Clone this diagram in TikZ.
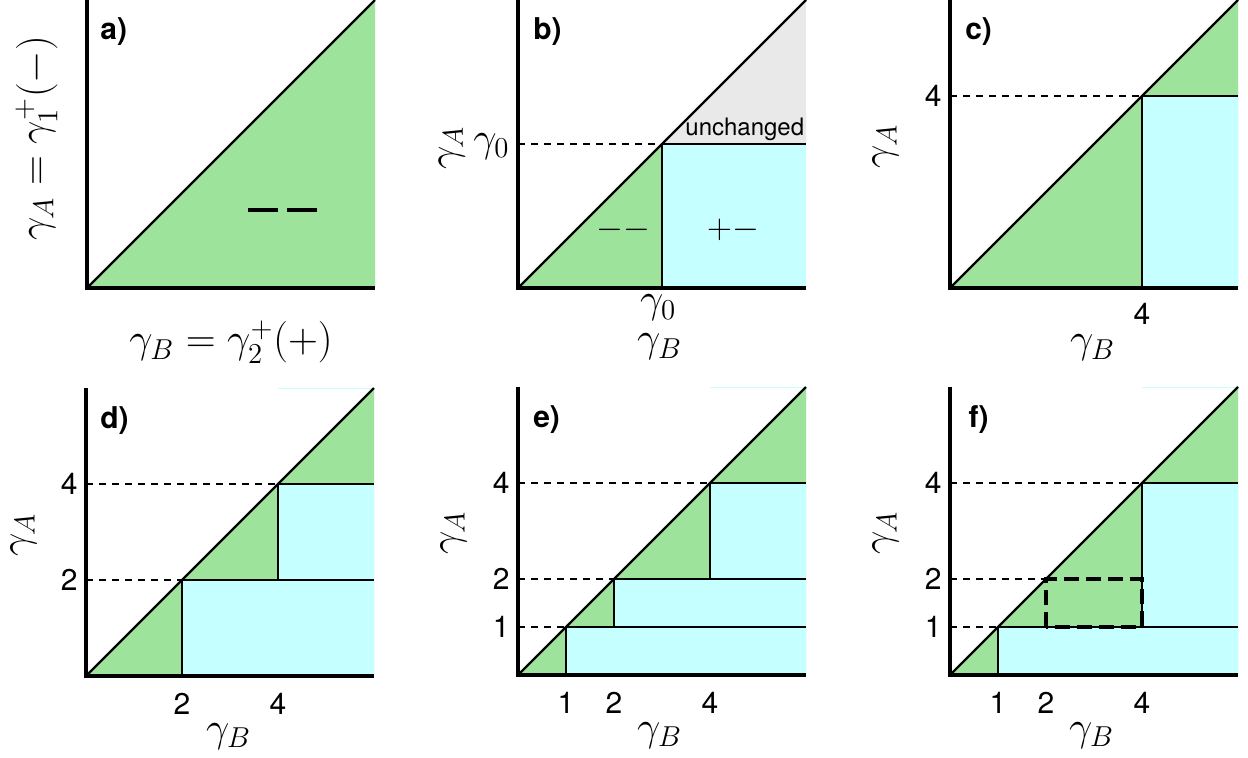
\documentclass[tikz,border=0pt]{standalone}
\usepackage{fontspec}
\newfontfamily\hv{TeX Gyre Heros}
\definecolor{gfill}{RGB}{157,227,155}
\definecolor{cfill}{RGB}{198,255,255}
\definecolor{grfill}{RGB}{233,233,233}
\tikzset{
  axisline/.style={line width=2.2pt},
  diagline/.style={line width=1.1pt},
  thinline/.style={line width=0.6pt},
  guide/.style={line width=0.8pt, dash pattern=on 3.5pt off 3pt},
  boxdash/.style={line width=2pt, dash pattern=on 7.5pt off 3.5pt},
  faint/.style={line width=0.5pt, draw=cfill},
  mathlab/.style={font=\fontsize{21}{25}\selectfont, inner sep=0},
  signlab/.style={font=\fontsize{17}{20}\selectfont, inner sep=0},
  ticklab/.style={font=\hv\fontsize{15}{18}\selectfont, inner sep=0},
  smalllab/.style={font=\hv\fontsize{12}{14}\selectfont, inner sep=0},
  panellab/.style={font=\hv\bfseries\fontsize{15}{18}\selectfont, inner sep=0, anchor=west},
  ytick/.style={ticklab, anchor=east},
  xtick/.style={ticklab, anchor=north},
  ylab/.style={mathlab, rotate=90, anchor=base},
  xlab/.style={mathlab, anchor=base},
}
\begin{document}
\begin{tikzpicture}[x=0.5pt, y=-0.5pt]
\useasboundingbox (0,0) rectangle (1248,757);

% ---------- panel a ----------
\begin{scope}[shift={(87,288)}, x=24pt, y=24pt]
  \fill[gfill] (0,0) -- (6,0) -- (6,6) -- cycle;
  \draw[diagline] (0,0) -- (6,6);
  \draw[axisline] (0,6) -- (0,0) -- (6,0);
  \draw[line width=2pt] (3.35,1.625) -- (3.98,1.625);
  \draw[line width=2pt] (4.17,1.625) -- (4.79,1.625);
  \node[panellab] (pa) at (0.27,5.35) {a)};
  \node[ylab] (ya) at (-0.83,3.12) {$\gamma_A=\gamma_1^+(-)$};
  \node[xlab] (xa) at (3,-1.35) {$\gamma_B=\gamma_2^+(+)$};
\end{scope}

% ---------- panel b ----------
\begin{scope}[shift={(518,288)}, x=24pt, y=24pt]
  \fill[gfill] (0,0) -- (3,0) -- (3,3) -- cycle;
  \fill[cfill] (3,0) rectangle (6,3);
  \fill[grfill] (3,3) -- (6,3) -- (6,6) -- cycle;
  \draw[thinline] (3,0) -- (3,3) -- (6,3);
  \draw[guide] (0,3) -- (3,3);
  \draw[diagline] (0,0) -- (6,6);
  \draw[axisline] (0,6) -- (0,0) -- (6,0);
  \node[panellab] (pb) at (0.31,5.35) {b)};
  \node[smalllab, anchor=base east] (unch) at (5.97,3.17) {unchanged};
  \node[signlab] (mm) at (2.19,1.21) {$--$};
  \node[signlab] (pm) at (4.48,1.21) {$+-$};
  \node[mathlab, anchor=base east] (g0y) at (-0.17,2.85) {$\gamma_0$};
  \node[mathlab, anchor=base] (g0x) at (2.92,-0.52) {$\gamma_0$};
  \node[ylab] (yb) at (-1.28,2.92) {$\gamma_A$};
  \node[xlab] (xb) at (2.95,-1.33) {$\gamma_B$};
\end{scope}

% ---------- panel c ----------
\begin{scope}[shift={(950,288)}, x=24pt, y=24pt]
  \fill[gfill] (0,0) -- (6,0) -- (6,6) -- cycle;
  \fill[cfill] (4,0) rectangle (6,4);
  \draw[thinline] (4,0) -- (4,4) -- (6,4);
  \draw[guide] (0,4) -- (4,4);
  \draw[diagline] (0,0) -- (6,6);
  \draw[axisline] (0,6) -- (0,0) -- (6,0);
  \node[panellab] (pc) at (0.31,5.35) {c)};
  \node[ytick] (cy4) at (-0.17,4) {4};
  \node[xtick] (cx4) at (4,-0.3) {4};
  \node[ylab] (yc) at (-1.24,2.95) {$\gamma_A$};
  \node[xlab] (xc) at (2.97,-1.35) {$\gamma_B$};
\end{scope}

% ---------- panel d ----------
\begin{scope}[shift={(86,676)}, x=24pt, y=24pt]
  \fill[gfill] (0,0) -- (6,0) -- (6,6) -- cycle;
  \fill[cfill] (4,2) rectangle (6,4);
  \fill[cfill] (2,0) rectangle (6,2);
  \draw[faint] (4,6) -- (6,6);
  \draw[thinline] (4,2) -- (4,4) -- (6,4);
  \draw[thinline] (2,0) -- (2,2) -- (6,2);
  \draw[guide] (0,4) -- (4,4);
  \draw[guide] (0,2) -- (2,2);
  \draw[diagline] (0,0) -- (6,6);
  \draw[axisline] (0,6) -- (0,0) -- (6,0);
  \node[panellab] (pd) at (0.29,5.33) {d)};
  \node[ytick] (dy4) at (-0.17,4) {4};
  \node[ytick] (dy2) at (-0.17,2) {2};
  \node[xtick] (dx2) at (2,-0.35) {2};
  \node[xtick] (dx4) at (4,-0.35) {4};
  \node[ylab] (yd) at (-1.2,2.94) {$\gamma_A$};
  \node[xlab] (xd) at (2.97,-1.37) {$\gamma_B$};
\end{scope}

% ---------- panel e ----------
\begin{scope}[shift={(518,675)}, x=24pt, y=24pt]
  \fill[gfill] (0,0) -- (6,0) -- (6,6) -- cycle;
  \fill[cfill] (4,2) rectangle (6,4);
  \fill[cfill] (2,1) rectangle (6,2);
  \fill[cfill] (1,0) rectangle (6,1);
  \draw[faint] (4,6) -- (6,6);
  \draw[thinline] (4,2) -- (4,4) -- (6,4);
  \draw[thinline] (2,1) -- (2,2) -- (6,2);
  \draw[thinline] (1,0) -- (1,1) -- (6,1);
  \draw[guide] (0,4) -- (4,4);
  \draw[guide] (0,2) -- (2,2);
  \draw[guide] (0,1) -- (1,1);
  \draw[diagline] (0,0) -- (6,6);
  \draw[axisline] (0,6) -- (0,0) -- (6,0);
  \node[panellab] (pe) at (0.31,5.33) {e)};
  \node[ytick] (ey4) at (-0.17,4) {4};
  \node[ytick] (ey2) at (-0.17,2) {2};
  \node[ytick] (ey1) at (-0.17,1) {1};
  \node[xtick] (ex1) at (1,-0.35) {1};
  \node[xtick] (ex2) at (2,-0.35) {2};
  \node[xtick] (ex4) at (4,-0.35) {4};
  \node[ylab] (ye) at (-1.24,2.96) {$\gamma_A$};
  \node[xlab] (xe) at (2.95,-1.37) {$\gamma_B$};
\end{scope}

% ---------- panel f ----------
\begin{scope}[shift={(950,675)}, x=24pt, y=24pt]
  \fill[gfill] (0,0) -- (6,0) -- (6,6) -- cycle;
  \fill[cfill] (4,1) rectangle (6,4);
  \fill[cfill] (1,0) rectangle (6,1);
  \draw[faint] (4,6) -- (6,6);
  \draw[thinline] (4,1) -- (4,4) -- (6,4);
  \draw[thinline] (1,0) -- (1,1) -- (6,1);
  \draw[guide] (0,4) -- (4,4);
  \draw[guide] (0,2) -- (2,2);
  \draw[guide] (0,1) -- (1,1);
  \draw[boxdash] (2,1) rectangle (4,2);
  \draw[diagline] (0,0) -- (6,6);
  \draw[axisline] (0,6) -- (0,0) -- (6,0);
  \node[panellab] (pf) at (0.38,5.33) {f)};
  \node[ytick] (fy4) at (-0.17,4) {4};
  \node[ytick] (fy2) at (-0.17,2) {2};
  \node[ytick] (fy1) at (-0.17,1) {1};
  \node[xtick] (fx1) at (1,-0.35) {1};
  \node[xtick] (fx2) at (2,-0.35) {2};
  \node[xtick] (fx4) at (4,-0.35) {4};
  \node[ylab] (yf) at (-1.24,2.96) {$\gamma_A$};
  \node[xlab] (xf) at (2.95,-1.37) {$\gamma_B$};
\end{scope}
\end{tikzpicture}
\end{document}
